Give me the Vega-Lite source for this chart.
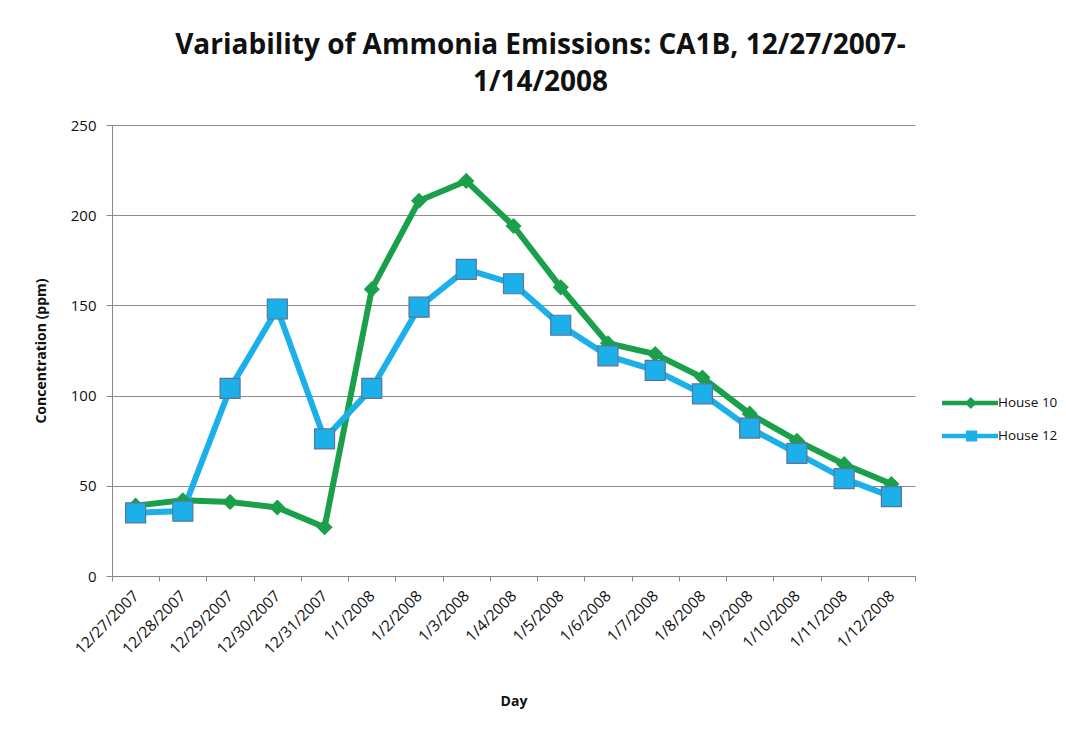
{
  "$schema": "https://vega.github.io/schema/vega-lite/v6.json",
  "autosize": {"type": "none"},
  "width": 803,
  "height": 451,
  "padding": {"left": 112, "top": 125, "right": 151, "bottom": 156},
  "background": "white",
  "title": {
    "text": ["Variability of Ammonia Emissions: CA1B, 12/27/2007-", "1/14/2008"],
    "font": "Open Sans",
    "fontSize": 28,
    "fontWeight": "bold",
    "color": "#111111",
    "anchor": "middle",
    "dx": 27,
    "offset": 21,
    "lineHeight": 37
  },
  "config": {
    "view": {"stroke": null},
    "font": "Open Sans"
  },
  "data": {
    "values": [
      {"day": "12/27/2007", "house": "House 10", "ppm": 39},
      {"day": "12/28/2007", "house": "House 10", "ppm": 42},
      {"day": "12/29/2007", "house": "House 10", "ppm": 41},
      {"day": "12/30/2007", "house": "House 10", "ppm": 38},
      {"day": "12/31/2007", "house": "House 10", "ppm": 27},
      {"day": "1/1/2008", "house": "House 10", "ppm": 159},
      {"day": "1/2/2008", "house": "House 10", "ppm": 208},
      {"day": "1/3/2008", "house": "House 10", "ppm": 219},
      {"day": "1/4/2008", "house": "House 10", "ppm": 194},
      {"day": "1/5/2008", "house": "House 10", "ppm": 160},
      {"day": "1/6/2008", "house": "House 10", "ppm": 129},
      {"day": "1/7/2008", "house": "House 10", "ppm": 123},
      {"day": "1/8/2008", "house": "House 10", "ppm": 110},
      {"day": "1/9/2008", "house": "House 10", "ppm": 90},
      {"day": "1/10/2008", "house": "House 10", "ppm": 75},
      {"day": "1/11/2008", "house": "House 10", "ppm": 62},
      {"day": "1/12/2008", "house": "House 10", "ppm": 51},
      {"day": "12/27/2007", "house": "House 12", "ppm": 35},
      {"day": "12/28/2007", "house": "House 12", "ppm": 36},
      {"day": "12/29/2007", "house": "House 12", "ppm": 104},
      {"day": "12/30/2007", "house": "House 12", "ppm": 148},
      {"day": "12/31/2007", "house": "House 12", "ppm": 76},
      {"day": "1/1/2008", "house": "House 12", "ppm": 104},
      {"day": "1/2/2008", "house": "House 12", "ppm": 149},
      {"day": "1/3/2008", "house": "House 12", "ppm": 170},
      {"day": "1/4/2008", "house": "House 12", "ppm": 162},
      {"day": "1/5/2008", "house": "House 12", "ppm": 139},
      {"day": "1/6/2008", "house": "House 12", "ppm": 122},
      {"day": "1/7/2008", "house": "House 12", "ppm": 114},
      {"day": "1/8/2008", "house": "House 12", "ppm": 101},
      {"day": "1/9/2008", "house": "House 12", "ppm": 82},
      {"day": "1/10/2008", "house": "House 12", "ppm": 68},
      {"day": "1/11/2008", "house": "House 12", "ppm": 54},
      {"day": "1/12/2008", "house": "House 12", "ppm": 44}
    ]
  },
  "encoding": {
    "x": {
      "field": "day",
      "type": "ordinal",
      "sort": null,
      "scale": {"type": "band", "paddingInner": 0, "paddingOuter": 0},
      "axis": {
        "title": "Day",
        "titleFont": "Open Sans",
        "titleFontSize": 14,
        "titleFontWeight": "bold",
        "titleColor": "#111111",
        "titlePadding": 37,
        "labelAngle": -45,
        "labelAlign": "right",
        "labelBaseline": "middle",
        "labelFontSize": 15.5,
        "labelColor": "#111111",
        "labelPadding": 12,
        "tickBand": "extent",
        "tickColor": "#888888",
        "tickSize": 5,
        "domainColor": "#888888",
        "grid": false
      }
    },
    "y": {
      "field": "ppm",
      "type": "quantitative",
      "scale": {"domain": [0, 250]},
      "axis": {
        "title": "Concentration (ppm)",
        "titleFont": "Open Sans",
        "titleFontSize": 14,
        "titleFontWeight": "bold",
        "titleColor": "#111111",
        "titlePadding": 22,
        "values": [0, 50, 100, 150, 200, 250],
        "labelFontSize": 15,
        "labelColor": "#111111",
        "labelPadding": 10,
        "tickColor": "#888888",
        "tickSize": 6,
        "domainColor": "#888888",
        "grid": true,
        "gridColor": "#8c8c8c",
        "gridWidth": 1.2
      }
    },
    "color": {
      "field": "house",
      "type": "nominal",
      "scale": {"domain": ["House 10", "House 12"], "range": ["#1aa04a", "#1cb0ea"]},
      "legend": null
    }
  },
  "layer": [
    {
      "mark": {"type": "line", "strokeWidth": 6},
      "encoding": {
        "color": {
          "field": "house",
          "type": "nominal",
          "scale": {"domain": ["House 10", "House 12"], "range": ["#1aa04a", "#1cb0ea"]},
          "legend": {
            "title": null,
            "orient": "none",
            "legendX": 830,
            "legendY": 270,
            "symbolSize": 256,
            "labelOffset": 40,
            "labelFontSize": 13.5,
            "labelColor": "#111111",
            "labelLimit": 200,
            "rowPadding": 18,
            "encode": {
              "symbols": {
                "update": {
                  "shape": {"signal": "datum.value === 'House 10' ? 'M-1,-0.28 L6,-0.28 L6,0.28 L-1,0.28 Z M2.6,-0.75 L3.35,0 L2.6,0.75 L1.85,0 Z' : 'M-1,-0.28 L6,-0.28 L6,0.28 L-1,0.28 Z M2.0,-0.7 L3.4,-0.7 L3.4,0.7 L2.0,0.7 Z'"},
                  "fill": {"signal": "datum.value === 'House 10' ? '#1aa04a' : '#1cb0ea'"},
                  "stroke": {"value": "transparent"},
                  "strokeWidth": {"value": 0}
                }
              }
            }
          }
        }
      }
    },
    {
      "transform": [{"filter": "datum.house === 'House 10'"}],
      "mark": {"type": "point", "filled": true, "opacity": 1, "shape": "diamond", "size": 260},
      "encoding": {"color": {"value": "#1aa04a"}}
    },
    {
      "transform": [{"filter": "datum.house === 'House 12'"}],
      "mark": {"type": "point", "filled": true, "opacity": 1, "shape": "square", "size": 400, "strokeWidth": 1.2},
      "encoding": {"color": {"value": "#1cb0ea"}, "stroke": {"value": "#5c7496"}}
    }
  ]
}
